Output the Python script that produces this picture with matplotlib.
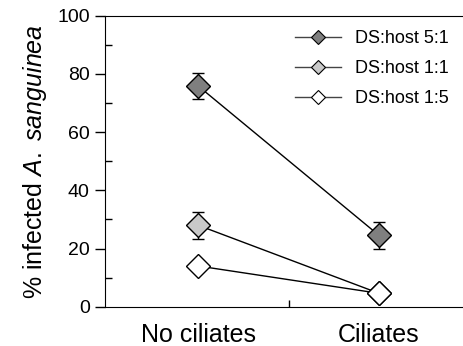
import matplotlib.pyplot as plt
from matplotlib.lines import Line2D

plt.rcParams["font.family"] = "Liberation Sans"
plt.rcParams["mathtext.fontset"] = "custom"
plt.rcParams["mathtext.rm"] = "Liberation Sans"
plt.rcParams["mathtext.it"] = "Liberation Sans:italic"

categories = ["No ciliates", "Ciliates"]
series = ["DS:host 5:1", "DS:host 1:1", "DS:host 1:5"]
values = {
    "DS:host 5:1": [75.9, 24.5],
    "DS:host 1:1": [28.0, 4.6],
    "DS:host 1:5": [14.0, 4.6],
}
errors = {
    "DS:host 5:1": [4.5, 4.5],
    "DS:host 1:1": [4.7, 0.0],
    "DS:host 1:5": [0.0, 0.0],
}
fills = {"DS:host 5:1": "#7f7f7f", "DS:host 1:1": "#c9c9c9", "DS:host 1:5": "white"}

W, H = 463, 346
fig = plt.figure(figsize=(W / 100, H / 100), dpi=100)
# right spine falls just outside the picture, as in the original
ax = fig.add_axes([105 / W, 39.3 / H, 364.5 / W, 291 / H])

x = list(range(len(categories)))
handles = []
for s in series:
    ax.errorbar(x, values[s], yerr=errors[s], fmt="none", ecolor="black",
                elinewidth=1, capsize=4.5, capthick=1, zorder=2)
    ax.plot(x, values[s], color="black", lw=1, zorder=3)
    ax.plot(x, values[s], ls="none", marker="D", ms=12.5, mfc=fills[s],
            mec="black", mew=1, zorder=4)
    handles.append(Line2D([], [], color="#444444", lw=1, marker="D", ms=7,
                          mfc=fills[s], mec="black", mew=0.8))

ax.set_xlim(-0.514, 1.5)
ax.set_ylim(0, 100)
ax.set_xticks(x)
ax.set_xticklabels(categories, fontsize=18)
ax.set_xticks([0.5], minor=True)
ax.set_yticks(range(0, 101, 20))
ax.set_yticks(range(10, 100, 20), minor=True)
ax.tick_params(axis="y", which="major", direction="out", length=7, width=1,
               labelsize=14, pad=4)
ax.tick_params(axis="y", which="minor", direction="in", length=5, width=1)
ax.tick_params(axis="x", which="major", length=0, pad=12)
ax.tick_params(axis="x", which="minor", direction="in", length=5, width=1)
ax.spines["right"].set_visible(False)
ax.set_ylabel(r"% infected $\mathit{A.\ sanguinea}$", fontsize=18, labelpad=6)

fig.legend(handles, series, loc="upper left",
           bbox_to_anchor=(295 / W, 1 - 30 / H), bbox_transform=fig.transFigure,
           frameon=False, fontsize=13, handlelength=2.55, labelspacing=0.72,
           handletextpad=0.8, borderpad=0, borderaxespad=0)

fig.savefig("out.png", dpi=100)
